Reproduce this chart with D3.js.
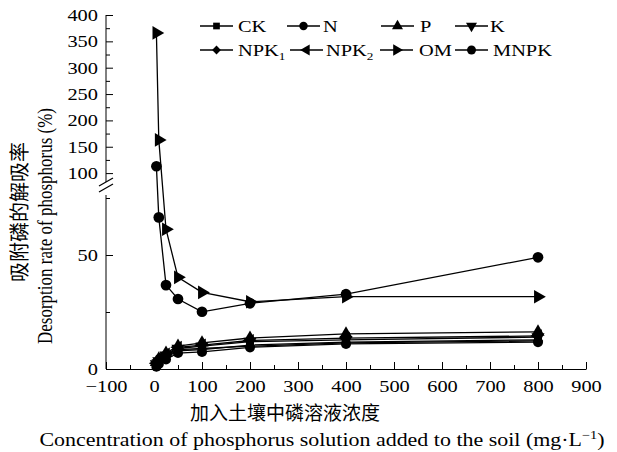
<!DOCTYPE html>
<html>
<head>
<meta charset="utf-8">
<script src="https://cdn.jsdelivr.net/npm/d3@7"></script>
<style>
  body { margin: 0; background: #fff; }
  svg text { font-family: "Liberation Serif", "Noto Sans CJK SC", serif; fill: #000; }
</style>
</head>
<body>
<script>
// concentration of P added (mg/L)
var conc = [5, 10, 25, 50, 100, 200, 400, 800];

// desorption rate (%) per treatment
var ck   = [1.5, 2.8, 5.0, 8.0, 8.5, 10.5, 11.8, 12.8];
var n    = [1.0, 2.2, 4.2, 7.0, 7.5, 9.5, 11.0, 11.8];
var p    = [3.0, 4.5, 7.0, 10.0, 11.5, 13.6, 15.4, 16.3];
var k    = [2.2, 3.5, 6.0, 9.0, 10.0, 12.0, 12.8, 14.0];
var npk1 = [1.8, 3.0, 5.5, 8.5, 9.0, 10.0, 11.5, 12.3];
var npk2 = [2.5, 4.0, 6.5, 9.5, 10.5, 12.5, 13.5, 14.5];
var om   = [366, 163, 61.3, 40.2, 33.6, 29.5, 31.7, 31.7];
var mnpk = [113, 66.5, 36.8, 30.7, 25.1, 28.8, 32.8, 49.0];

var names = ["CK", "N", "P", "K", "NPK1", "NPK2", "OM", "MNPK"];
var values = [ck, n, p, k, npk1, npk2, om, mnpk];

var xTicks = [-100, 0, 100, 200, 300, 400, 500, 600, 700, 800, 900];
var yUpperTicks = [100, 150, 200, 250, 300, 350, 400];
var yLowerTicks = [0, 50];

var width = 617, height = 452;
var sx = 1.2; // text in the figure is stretched horizontally

var svg = d3.select("body").append("svg")
    .attr("width", width)
    .attr("height", height);

var x = d3.scaleLinear().domain([-100, 900]).range([106, 586]);
// broken axis: 0-75 below the break, 85-400 above it
var y = d3.scaleLinear().domain([0, 75, 85, 400]).range([369, 198, 181, 15]);

// symbols
var tri = d3.symbolTriangle;
function marker(name) {
    switch (name) {
        case "CK": return {type: d3.symbolSquare, size: 64, rot: 0};
        case "N": return {type: d3.symbolCircle, size: 80, rot: 0};
        case "P": return {type: tri, size: 75, rot: 0};
        case "K": return {type: tri, size: 75, rot: 180};
        case "NPK1": return {type: d3.symbolSquare, size: 55, rot: 45};
        case "NPK2": return {type: tri, size: 75, rot: -90};
        case "OM": return {type: tri, size: 80, rot: 90};
        case "MNPK": return {type: d3.symbolCircle, size: 90, rot: 0};
    }
}

// x axis
var xAxis = d3.axisBottom(x)
    .tickValues(xTicks)
    .tickSizeInner(-7)
    .tickSizeOuter(0)
    .tickPadding(11);
var gx = svg.append("g")
    .attr("transform", "translate(0,369)")
    .call(xAxis);
gx.selectAll("text")
    .style("font-size", "17px")
    .attr("transform", "scale(" + sx + ",1)");

svg.append("g")
    .attr("transform", "translate(0,369)")
    .call(d3.axisBottom(x)
        .tickValues(d3.range(-50, 900, 100))
        .tickSizeInner(-4)
        .tickSizeOuter(0)
        .tickFormat(""))
    .select(".domain").remove();

// y axis ticks
function yTicks(vals, size, labels) {
    var g = svg.append("g")
        .attr("transform", "translate(106,0)")
        .call(d3.axisLeft(y)
            .tickValues(vals)
            .tickSizeInner(-size)
            .tickSizeOuter(0)
            .tickPadding(8 / sx)
            .tickFormat(labels ? d3.format("d") : ""));
    g.select(".domain").remove();
    g.selectAll("text")
        .style("font-size", "17px")
        .attr("transform", "scale(" + sx + ",1)");
}
yTicks(yUpperTicks, 7, true);
yTicks(yLowerTicks, 7, true);
yTicks([125, 175, 225, 275, 325, 375], 4, false);
yTicks([25, 75], 4, false);

// y axis segments and break marks
svg.append("line").attr("x1", 106).attr("x2", 106)
    .attr("y1", y(0)).attr("y2", 195).attr("stroke", "#000");
svg.append("line").attr("x1", 106).attr("x2", 106)
    .attr("y1", 182).attr("y2", y(400)).attr("stroke", "#000");
[0, 6].forEach(function(o) {
    svg.append("line")
        .attr("x1", 99).attr("y1", 186 + o)
        .attr("x2", 113).attr("y2", 178 + o)
        .attr("stroke", "#000").attr("stroke-width", 1.3);
});

// series
var line = d3.line()
    .x(function(d) { return x(d[0]); })
    .y(function(d) { return y(d[1]); });

names.forEach(function(name, i) {
    var pts = conc.map(function(c, j) { return [c, values[i][j]]; });
    svg.append("path")
        .datum(pts)
        .attr("d", line)
        .attr("fill", "none")
        .attr("stroke", "#000")
        .attr("stroke-width", 1.3);
});

names.forEach(function(name, i) {
    var m = marker(name);
    var sym = d3.symbol().type(m.type).size(m.size);
    svg.append("g").selectAll("path")
        .data(conc.map(function(c, j) { return [c, values[i][j]]; }))
        .enter()
        .append("path")
        .attr("d", sym)
        .attr("fill", "#000")
        .attr("transform", function(d) {
            return "translate(" + x(d[0]) + "," + y(d[1]) + ") rotate(" + m.rot + ")";
        });
});

// legend
var legRows = [26, 50];
var legLineX = [[200, 287, 381, 455], [200, 290, 380, 455]];
var legTextX = [[238, 323, 420, 490], [238, 326, 419, 493]];
var legLen = 33;

names.forEach(function(name, i) {
    var r = Math.floor(i / 4), c = i % 4;
    var ly = legRows[r], lx = legLineX[r][c];
    var m = marker(name);
    svg.append("line")
        .attr("x1", lx).attr("x2", lx + legLen)
        .attr("y1", ly).attr("y2", ly)
        .attr("stroke", "#000").attr("stroke-width", 1.3);
    svg.append("path")
        .attr("d", d3.symbol().type(m.type).size(m.size * 0.7))
        .attr("fill", "#000")
        .attr("transform", "translate(" + (lx + legLen / 2) + "," + ly + ") rotate(" + m.rot + ")");
    var t = svg.append("text")
        .attr("transform", "translate(" + legTextX[r][c] + "," + (ly + 6) + ") scale(" + sx + ",1)")
        .style("font-size", "17px");
    if (name == "NPK1" || name == "NPK2") {
        t.append("tspan").text("NPK");
        t.append("tspan").attr("dy", 4).style("font-size", "11px").text(name.slice(3));
    } else {
        t.text(name);
    }
});

// axis titles
svg.append("text")
    .attr("transform", "translate(285,420)")
    .attr("text-anchor", "middle")
    .style("font-size", "19px")
    .style("font-family", "'Noto Sans CJK SC'")
    .text("加入土壤中磷溶液浓度");

var xt = svg.append("text")
    .attr("transform", "translate(322,446) scale(" + sx + ",1)")
    .attr("text-anchor", "middle")
    .style("font-size", "18.3px");
xt.append("tspan").text("Concentration of phosphorus solution added to the soil (mg·L");
xt.append("tspan").attr("dy", -7).style("font-size", "12px").text("−1");
xt.append("tspan").attr("dy", 7).text(")");

svg.append("text")
    .attr("transform", "translate(27,212) rotate(-90)")
    .attr("text-anchor", "middle")
    .style("font-size", "20px")
    .style("font-family", "'Noto Sans CJK SC'")
    .text("吸附磷的解吸率");

svg.append("text")
    .attr("transform", "translate(52,226) scale(" + sx + ",1) rotate(-90)")
    .attr("text-anchor", "middle")
    .style("font-size", "17px")
    .text("Desorption rate of phosphorus (%)");
</script>
</body>
</html>
